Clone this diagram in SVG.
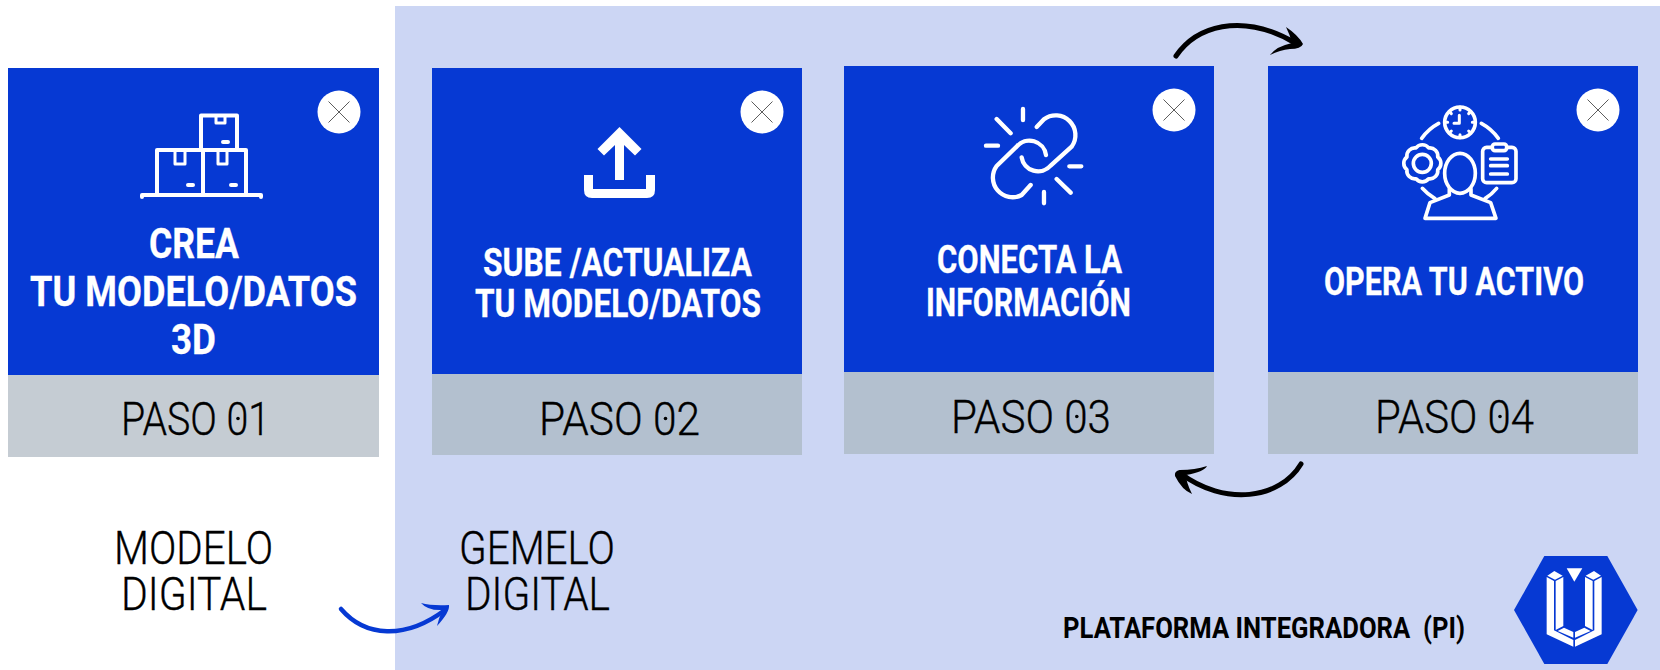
<svg xmlns="http://www.w3.org/2000/svg" width="1660" height="670" viewBox="0 0 1660 670">
<style>
.card{fill:#0639d3}
.g1{fill:#c5ccd3}
.g2{fill:#b3c0cf}
.t{font-family:Roboto,"Liberation Sans",sans-serif;font-weight:700;fill:#fff;stroke:#fff;stroke-width:.3}
.p{font-family:Roboto,"Liberation Sans",sans-serif;font-weight:300;fill:#000;stroke:#000;stroke-width:.35;font-size:46px}
.ic{fill:none;stroke:#fff;stroke-linecap:round;stroke-linejoin:round}
.x{stroke:#333;stroke-width:.8}
.dot{fill:#000}
.k{fill:none;stroke:#000;stroke-width:5;stroke-linecap:round}
.kh{fill:#000}
</style>
<defs>
<g id="close"><circle r="21.5" fill="#fff"/><path class="x" d="M-10.500-10.500 10.500 10.500M-10.500 10.500 10.500-10.500"/></g>
</defs>
<rect width="1660" height="670" fill="#fff"/>
<rect id="panel" x="395" y="6" width="1265" height="664" fill="#ccd6f4"/>

<g id="paso1">
<rect class="card" x="8" y="68" width="371" height="307"/>
<rect class="g1" x="8" y="375" width="371" height="82"/>
<use href="#close" x="339" y="112"/>
<g class="ic" stroke-width="4">
<path d="M142 197V195H261V197M157 195V150H246V195M203 150V195M201 149V115.500H237V149"/>
<path d="M175 151V164H185V151M218 151V164H227V151M216 117V123H225V117" stroke-width="3"/>
<path d="M188 185H193M231 185H236M223 142H228"/>
</g>
<text class="t" x="149" y="258" font-size="42" textLength="90" lengthAdjust="spacingAndGlyphs">CREA</text>
<text class="t" x="30" y="306" font-size="42" textLength="327" lengthAdjust="spacingAndGlyphs">TU MODELO/DATOS</text>
<text class="t" x="171" y="354" font-size="42" textLength="45" lengthAdjust="spacingAndGlyphs">3D</text>
<text class="p" x="121" y="435" textLength="149" lengthAdjust="spacingAndGlyphs">PASO 01</text>
<circle class="dot" cx="238" cy="418.500" r="1.800"/>
</g>

<g id="paso2">
<rect class="card" x="432" y="68" width="370" height="306"/>
<rect class="g2" x="432" y="374" width="370" height="81"/>
<use href="#close" x="762" y="112"/>
<path fill="#fff" d="M619.500 127 641.500 149 635 155.500 624 145V180H615V145L604 155.500 597.500 149ZM584 175H593V189H646V175H655V190Q655 198 647 198H592Q584 198 584 190Z"/>
<text class="t" x="483" y="276" font-size="39" textLength="269" lengthAdjust="spacingAndGlyphs">SUBE /ACTUALIZA</text>
<text class="t" x="475" y="317" font-size="39" textLength="286" lengthAdjust="spacingAndGlyphs">TU MODELO/DATOS</text>
<text class="p" x="539" y="435" textLength="161" lengthAdjust="spacingAndGlyphs">PASO 02</text>
<circle class="dot" cx="665.500" cy="418.500" r="1.800"/>
</g>

<g id="paso3">
<rect class="card" x="844" y="66" width="370" height="306"/>
<rect class="g2" x="844" y="372" width="370" height="82"/>
<use href="#close" x="1174" y="110"/>
<g class="ic" transform="translate(840 0) scale(.3333)" stroke-width="13">
<path d="M590 381 612 358A59 59 0 0 1 695 440L632 497A50 50 0 0 1 545 472"/>
<path d="M618 465A50 50 0 0 0 530 440L470 498A59 59 0 0 0 545 585L572 555"/>
<path d="M549 327V360M470 357 512 400M438 437H474M688 499H724M650 537 692 578M612 576V610"/>
</g>
<text class="t" x="937" y="273" font-size="38" textLength="185" lengthAdjust="spacingAndGlyphs">CONECTA LA</text>
<text class="t" x="926" y="316" font-size="38" textLength="205" lengthAdjust="spacingAndGlyphs">INFORMACIÓN</text>
<text class="p" x="951" y="433" textLength="160" lengthAdjust="spacingAndGlyphs">PASO 03</text>
<circle class="dot" cx="1076.800" cy="416.500" r="1.800"/>
</g>

<g id="paso4">
<rect class="card" x="1268" y="66" width="370" height="306"/>
<rect class="g2" x="1268" y="372" width="370" height="82"/>
<use href="#close" x="1598" y="110"/>
<g class="ic" transform="translate(1380 90) scale(.3333)" stroke-width="11">
<circle cx="240" cy="97" r="46"/>
<path d="M238 76V100H222M240 51V60M240 134V143M194 97H203M277 97H286M208 65 214 71M272 65 266 71M208 129 214 123M272 129 266 123" stroke-width="9"/>
<path d="M125 145A150 150 0 0 1 176 100M304 100A150 150 0 0 1 355 145M127 295A150 150 0 0 0 165 326M315 326A150 150 0 0 0 350 295"/>
<path d="M173.200 239.100A24 24 0 0 1 146.100 266.200A24 24 0 0 1 107.900 266.200A24 24 0 0 1 80.800 239.100A24 24 0 0 1 80.800 200.900A24 24 0 0 1 107.900 173.800A24 24 0 0 1 146.100 173.800A24 24 0 0 1 173.200 200.900A24 24 0 0 1 173.200 239.100Z"/>
<circle cx="127" cy="220" r="27"/>
<rect x="308" y="172" width="100" height="106" rx="12"/>
<rect x="337" y="162" width="43" height="20" rx="8" fill="#0639d3"/>
<path d="M332 207H382M332 227H382M332 252H382"/>
<ellipse cx="240" cy="250" rx="46" ry="60"/>
<path d="M208 297V315L150 338 135 385H348L332 338 273 315V297"/>
</g>
<text class="t" x="1324" y="295" font-size="38" textLength="260" lengthAdjust="spacingAndGlyphs">OPERA TU ACTIVO</text>
<text class="p" x="1375" y="433" textLength="159" lengthAdjust="spacingAndGlyphs">PASO 04</text>
<circle class="dot" cx="1500" cy="416.500" r="1.800"/>
</g>

<g id="modelo-digital">
<text class="p" x="114" y="564" textLength="159" lengthAdjust="spacingAndGlyphs">MODELO</text>
<text class="p" x="121" y="610" textLength="146" lengthAdjust="spacingAndGlyphs">DIGITAL</text>
</g>
<g id="gemelo-digital">
<text class="p" x="459" y="564" textLength="156" lengthAdjust="spacingAndGlyphs">GEMELO</text>
<text class="p" x="465" y="610" textLength="145" lengthAdjust="spacingAndGlyphs">DIGITAL</text>
</g>

<g id="plataforma">
<text x="1063" y="638" font-family="Roboto,'Liberation Sans',sans-serif" font-weight="700" font-size="29" fill="#000" textLength="402" lengthAdjust="spacingAndGlyphs" xml:space="preserve">PLATAFORMA INTEGRADORA  (PI)</text>
</g>

<g id="logo" transform="translate(1510 555) scale(.3333)">
<polygon points="12,165 103,3 292,3 383,165 292,327 103,327" fill="#0639d3"/>
<g fill="#fff">
<polygon points="170,40 217,40 193,80"/>
<g>
<polygon points="112,62 133,48 158,62 135,74"/>
<polygon points="110,66 132,78 132,226 190,255 190,275 110,238"/>
<polygon points="137,78 160,66 160,213 137,225"/>
<polygon points="143,228 162,218 190,231 190,248"/>
</g>
<g transform="translate(385 0) scale(-1 1)">
<polygon points="112,62 133,48 158,62 135,74"/>
<polygon points="110,66 132,78 132,226 190,255 190,275 110,238"/>
<polygon points="137,78 160,66 160,213 137,225"/>
<polygon points="143,228 162,218 190,231 190,248"/>
</g>
</g>
</g>

<g id="connectors">
<path class="k" d="M1176 56C1195 28 1240 10 1297 44"/>
<path class="kh" d="M1286 27Q1298 35 1303 44Q1301 49 1290 49Q1280 50 1270 55Q1277 46 1292 43Q1290 35 1286 27Z"/>
<path class="k" d="M1301 464C1280 499 1225 507 1180 473"/>
<path class="kh" d="M1207 466Q1204 472 1186 475Q1186 482 1192 494Q1182 490 1175 476Q1174 471 1180 470Q1195 470 1207 466Z"/>
<path d="M341 609C365 637 405 640 445 610" fill="none" stroke="#0639d3" stroke-width="4.500" stroke-linecap="round"/>
<path fill="#0639d3" d="M421 603Q432 606 449 605Q450 612 437 626Q439 617 443 610Q428 611 421 603Z"/>
</g>
</svg>
